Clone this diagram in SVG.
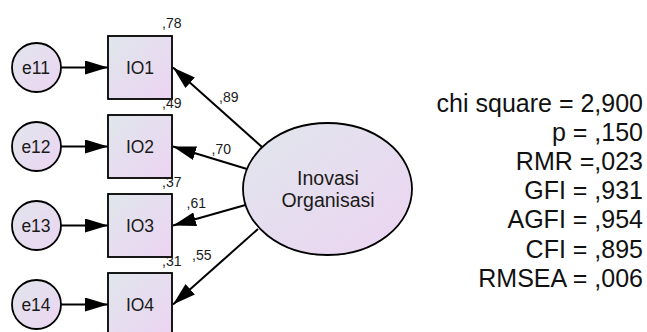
<svg xmlns="http://www.w3.org/2000/svg" width="647" height="332" viewBox="0 0 647 332">
<defs>
<linearGradient id="g" x1="0" y1="0" x2="1" y2="1">
<stop offset="0" stop-color="#e0e6ec"/>
<stop offset="1" stop-color="#ecd4f2"/>
</linearGradient>
<marker id="ah" markerUnits="userSpaceOnUse" viewBox="0 0 23 14" refX="23" refY="7" markerWidth="23" markerHeight="14" orient="auto">
<path d="M0,0 L23,7 L0,14 z" fill="#000"/>
</marker>
</defs>
<style>
.shape{fill:url(#g);stroke:#000;stroke-width:1.8}
.lbl{font-family:"Liberation Sans",Arial,sans-serif;font-size:17.5px;fill:#1a1a1a;text-anchor:middle}
.sm{font-family:"Liberation Sans",Arial,sans-serif;font-size:14px;fill:#1a1a1a}
.fit{font-family:"Liberation Sans",Arial,sans-serif;font-size:25px;fill:#111;text-anchor:end}
.con{stroke:#000;stroke-width:2;fill:none;marker-end:url(#ah)}
</style>
<rect width="647" height="332" fill="#fff"/>
<g id="connectors">
<line class="con" x1="61" y1="67.5" x2="108" y2="67.5"/>
<line class="con" x1="61" y1="146.5" x2="108" y2="146.5"/>
<line class="con" x1="61" y1="225.5" x2="108" y2="225.5"/>
<line class="con" x1="61" y1="304.5" x2="108" y2="304.5"/>
<line class="con" x1="262" y1="147" x2="173" y2="67.5"/>
<line class="con" x1="247" y1="169" x2="173" y2="146.5"/>
<line class="con" x1="245.5" y1="205" x2="173" y2="225.5"/>
<line class="con" x1="258" y1="229" x2="173" y2="304.5"/>
</g>
<g id="e11"><circle class="shape" cx="36.5" cy="67.5" r="24.5"/><text class="lbl" x="36" y="74">e11</text></g>
<g id="e12"><circle class="shape" cx="36.5" cy="146.5" r="24.5"/><text class="lbl" x="36" y="153">e12</text></g>
<g id="e13"><circle class="shape" cx="36.5" cy="225.5" r="24.5"/><text class="lbl" x="36" y="232">e13</text></g>
<g id="e14"><circle class="shape" cx="36.5" cy="304.5" r="24.5"/><text class="lbl" x="36" y="311">e14</text></g>
<g id="IO1"><rect class="shape" x="108" y="36" width="64" height="63"/><text class="lbl" x="140" y="74">IO1</text><text class="sm" x="162" y="27.5">,78</text></g>
<g id="IO2"><rect class="shape" x="108" y="115" width="64" height="63"/><text class="lbl" x="140" y="153">IO2</text><text class="sm" x="162" y="107.5">,49</text></g>
<g id="IO3"><rect class="shape" x="108" y="194" width="64" height="63"/><text class="lbl" x="140" y="232">IO3</text><text class="sm" x="162" y="187">,37</text></g>
<g id="IO4"><rect class="shape" x="108" y="273" width="64" height="63"/><text class="lbl" x="140" y="311">IO4</text><text class="sm" x="162" y="266">,31</text></g>
<g id="InovasiOrganisasi"><ellipse class="shape" cx="327.5" cy="189" rx="84.5" ry="66"/>
<text class="lbl" x="328" y="185" style="font-size:19.5px">Inovasi</text>
<text class="lbl" x="328" y="207" style="font-size:19.5px">Organisasi</text></g>
<g id="path-labels">
<text class="sm" x="219" y="102">,89</text>
<text class="sm" x="211.5" y="153.5">,70</text>
<text class="sm" x="186.5" y="207.5">,61</text>
<text class="sm" x="192" y="260">,55</text>
</g>
<g id="fit-indices">
<text class="fit" x="643" y="111.5">chi square = 2,900</text>
<text class="fit" x="643" y="140.5">p = ,150</text>
<text class="fit" x="643" y="169.5">RMR =,023</text>
<text class="fit" x="643" y="198.5">GFI = ,931</text>
<text class="fit" x="643" y="228">AGFI = ,954</text>
<text class="fit" x="643" y="257.5">CFI = ,895</text>
<text class="fit" x="643" y="286.5">RMSEA = ,006</text>
</g>
</svg>
